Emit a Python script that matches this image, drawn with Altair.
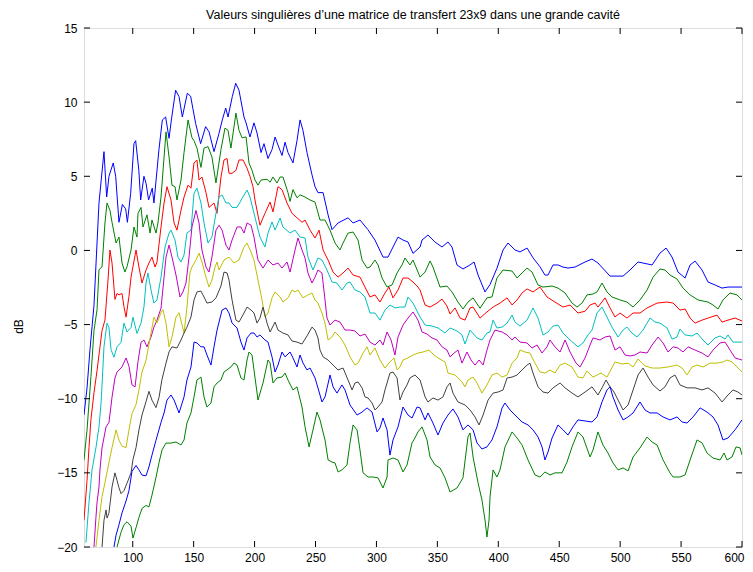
import altair as alt
import pandas as pd

TITLE = "Valeurs singulières d\u2019une matrice de transfert 23x9 dans une grande cavité"
Y_TITLE = "dB"
XTICKS = [100, 150, 200, 250, 300, 350, 400, 450, 500, 550, 600]
YTICKS = [-20, -15, -10, -5, 0, 5, 10, 15]
X_DOMAIN = [60, 600]
Y_DOMAIN = [-20, 15]
COLORS = ["#0000ff", "#008000", "#ff0000", "#00bfbf", "#bf00bf", "#bfbf00", "#404040", "#0000ff", "#008000"]

S1 = [(60,-11.1),(62.5,-9.27),(64.9,-6.7),(68.2,-3.7),(72.3,3.2),(76.4,6.66),(78.6,3.6),(80.5,5.0),(84,5.9),(86,5.0),
      (88.7,1.9),(91.5,3.1),(94.2,2.8),(95.6,1.9),(98.3,3.85),(101,7.2),(102.4,7.4),(105,5.4),(106.5,3.4),(109.2,5.0),
      (111,4.5),(113,3.4),(116,4.2),(117.4,3.2),(121.5,6.8),(124.3,8.8),(127,9.0),(129.8,7.56),(131.7,8.8),(135.2,10.8),
      (138,10.37),(140.7,9.0),(144.8,10.6),(147.5,10.4),(151.6,8.57),(155.7,7.2),(159.8,8.35),(162.6,8.0),(166.7,6.66),
      (170.8,7.9),(173.5,8.8),(176.3,9.6),(178.2,9.0),(181.7,10.37),(184.5,11.27),(187.2,10.8),(191.3,9.0),(193,8.6),
      (196.2,7.65),(199.5,8.6),(202,7.92),(205.3,6.6),(207.7,7.2),(211,6.2),(214.3,6.8),(216.8,7.65),(219.2,7.1),
      (222.5,6.4),(225,7.3),(227.4,6.6),(231.5,5.9),(234.8,7.4),(237.3,8.8),(239.7,8.1),(243,6.6),(247.1,5.1),(249.6,4.3),
      (252,3.9),(256.2,3.9),(260.3,2.4),(263.5,1.4),(268.5,1.85),(276.7,2.2),(280.8,1.85),(286.5,2.05),(293,1.4),
      (298.8,0.7),(305.4,-0.45),(309.5,-0.45),(313.6,0.23),(317.7,0.9),(321.8,0.7),(325.9,0.57),(330,-0.2),(335.8,0.23),
      (337.4,0.7),(342.3,1.04),(348,0.57),(353.8,0.23),(358.7,0.57),(362,0.23),(366.1,-0.98),(371,-1.25),(376.8,-0.98),
      (380.1,-0.78),(383.4,-1.66),(389.1,-2.8),(393.2,-2.3),(398.9,-1.2),(403.9,0.03),(408,0.5),(413.7,0.03),(417.8,-0.1),
      (423.6,0.16),(428.5,-0.5),(434.2,-1.1),(438.3,-1.66),(440.8,-1.66),(444.9,-0.98),(449,-0.98),(453.1,-1.12),
      (457.2,-1.19),(463,-1.12),(471.2,-0.78),(476.9,-0.58),(481.8,-0.85),(491.7,-1.73),(502.4,-1.73),(508.1,-1.32),
      (514.7,-0.78),(526.2,-0.98),(532.7,-0.18),(537.7,0.16),(542.6,-0.45),(547.5,-1.46),(553.3,-1.86),(557.4,-0.98),
      (561.5,-0.72),(567.2,-1.32),(572.1,-2.13),(577.9,-2.33),(583.6,-2.54),(588.5,-2.47),(595.9,-2.47),(600,-2.47)]

S2 = [(60,-14.13),(62.5,-12.1),(64.1,-10.3),(65.7,-8.5),(68.2,-5.4),(70.7,-4.0),(72.3,-1.3),(74.8,-1.1),(77.2,1.85),
      (78.9,3.2),(81.3,2.7),(83,1.9),(86.3,0.5),(88.7,0.9),(91.2,-0.85),(93.6,-1.46),(95.3,-1.1),(98.6,0.03),(101,1.58),
      (103.5,0.9),(104.3,2.5),(106.8,2.9),(108.4,1.58),(111.7,2.4),(114.2,1.17),(115.8,2.05),(119.1,1.17),(120.7,1.85),
      (123.2,3.6),(127.3,8.0),(129.8,6.3),(132.2,4.4),(134.7,4.3),(136.3,3.4),(139.6,4.75),(142.1,6.6),(145.4,8.8),
      (148.6,7.6),(150.3,7.4),(152.7,6.9),(156,5.6),(158.5,6.9),(161.8,7.0),(165,6.3),(168.3,4.55),(172.4,6.8),
      (175.7,8.25),(178.2,8.1),(180.6,6.9),(184.7,9.26),(187.2,8.1),(189.7,7.6),(193,7.65),(195.4,5.9),(197.9,5.4),
      (200.3,4.75),(202.8,4.4),(205.3,4.75),(210.2,4.8),(212.7,4.6),(215.1,4.95),(218.4,4.55),(220.9,4.95),(223.3,4.95),
      (227.4,3.9),(229.1,3.3),(231.5,4.1),(234.8,3.55),(237.3,3.75),(241.4,3.6),(245.5,3.4),(249.6,3.26),(253.7,2.05),
      (257.8,2.05),(261.9,1.37),(266,0.5),(270.1,0.03),(272.6,0.5),(276.7,1.17),(280.8,1.24),(284.9,0.7),(288.2,-0.65),
      (292.3,-1.19),(294.7,-1.12),(298.8,-0.65),(301.3,-0.98),(304.6,-1.86),(308.7,-2.47),(312.8,-2.33),(316.9,-1.52),
      (321,-0.98),(323.4,-0.51),(327.5,-0.98),(330,-0.65),(335.8,-1.8),(339.9,-1.46),(344,-0.71),(346.4,-1.12),
      (352.2,-2.47),(357.9,-2.4),(362,-2.8),(366.9,-3.48),(371,-3.95),(375.1,-3.48),(379.3,-3.2),(385,-3.9),(390.7,-3.2),
      (394.8,-3.14),(398.9,-1.86),(403.9,-1.32),(411.3,-1.39),(415.4,-1.86),(419.5,-1.52),(423.6,-1.19),(427.7,-1.46),
      (432.6,-2.33),(436.7,-2.47),(444.1,-2.4),(449,-2.54),(454.8,-2.87),(460.5,-3.55),(464.6,-3.82),(468.7,-3.55),
      (472.8,-3.0),(477.7,-2.94),(481,-2.8),(485.1,-2.2),(489.2,-2.8),(493.3,-3.14),(499.9,-3.34),(505.6,-3.48),
      (510.6,-3.82),(516.3,-3.34),(522.1,-2.67),(527,-1.8),(532.7,-1.25),(536.8,-1.32),(540.9,-1.66),(546.7,-1.93),
      (551.6,-2.54),(557.4,-3.0),(563.9,-3.34),(572.1,-3.48),(576.2,-3.68),(580.3,-3.95),(584.4,-3.34),(590.2,-2.87),
      (595.9,-3.0),(600,-3.34)]

S3 = [(60,-18.2),(62.5,-15.5),(64.1,-13.3),(65.7,-11.4),(68.2,-9.6),(70.7,-8.1),(74.8,-5.4),(77.2,-4.7),(79.7,-2.0),
      (81.3,0.03),(83,-0.85),(85.4,-3.3),(87.1,-2.9),(88.7,-3.0),(91.2,-2.9),(92.8,-3.8),(94.5,-4.5),(96.9,-3.1),
      (98.6,-1.8),(102.7,0.03),(105.1,-1.12),(107.6,-2.2),(110.9,-1.32),(113.3,-0.85),(115.8,-0.45),(118.3,-1.12),
      (119.9,-0.78),(123.2,1.58),(125.7,3.2),(128.1,4.3),(131.4,3.4),(133.9,1.85),(136.3,1.37),(139.6,2.7),(142.1,3.6),
      (145.4,4.4),(147.8,4.2),(150.3,5.9),(152.7,6.1),(154.4,4.75),(156.8,4.95),(160.1,3.9),(162.6,2.9),(166.7,3.2),
      (169.2,2.5),(172.4,4.95),(174.9,6.1),(177.4,6.2),(179,5.2),(181.5,5.2),(184.7,5.4),(187.2,6.1),(190.5,6.1),
      (193.8,5.55),(196.2,5.0),(198.7,4.3),(200.3,3.4),(204.4,1.7),(208.5,2.5),(212.7,3.26),(215.1,2.6),(219.2,4.3),
      (222.5,4.1),(226.6,3.2),(230.7,2.5),(234.8,2.2),(238.9,1.9),(241.4,2.05),(245.5,1.37),(249.6,0.84),(252.9,1.37),
      (256.2,0.03),(260.3,-0.65),(264.4,-1.46),(268.5,-1.8),(272.6,-1.52),(276.7,-1.19),(280.8,-1.66),(286.5,-1.8),
      (290.6,-2.47),(294.7,-3.14),(298.8,-3.0),(302.9,-3.48),(307,-2.87),(310.3,-2.47),(313.6,-3.2),(317.7,-2.67),
      (321.8,-1.86),(325.9,-1.86),(330,-2.13),(334.1,-2.47),(335.8,-2.67),(339.9,-3.68),(344,-3.82),(349.7,-3.55),
      (353.8,-3.28),(357.9,-3.75),(360.4,-4.29),(364.5,-3.88),(368.6,-4.56),(372.7,-4.7),(376.8,-3.88),(379.3,-3.82),
      (385,-4.56),(390.7,-4.15),(395.7,-3.82),(401.4,-3.55),(407.2,-3.2),(411.3,-3.68),(415.4,-3.34),(419.5,-2.87),
      (423.6,-2.6),(428.5,-2.8),(434.2,-2.47),(440,-3.14),(446.5,-3.48),(453.1,-3.82),(458.9,-3.68),(465.4,-4.22),
      (471.2,-4.1),(475.3,-3.68),(479.4,-3.55),(481.8,-3.82),(487.6,-3.2),(491.7,-3.88),(495.8,-4.49),(499.9,-4.22),
      (505.6,-4.56),(510.6,-4.22),(516.3,-4.22),(522.1,-3.88),(530.3,-3.55),(538.5,-3.48),(543.4,-3.55),(549.1,-4.02),
      (553.3,-3.95),(557.4,-4.56),(561.5,-4.9),(567.2,-4.7),(572.1,-4.56),(579.5,-4.36),(583.6,-4.83),(588.5,-4.7),
      (594.3,-4.56),(600,-4.76)]

S4 = [(61.6,-19.7),(64.1,-17.0),(66.6,-14.8),(69.8,-13.3),(72.3,-11.9),(74,-10.3),(74.8,-9.07),(76.4,-6.5),(78.9,-4.9),
      (80.5,-5.2),(82.2,-6.7),(84.6,-7.2),(87.1,-6.5),(90.4,-6.2),(92.8,-4.9),(95.3,-5.5),(98.6,-5.2),(100.2,-4.5),
      (103.5,-5.6),(106.8,-4.9),(109.2,-3.82),(110.9,-2.2),(112.5,-1.52),(115,-2.67),(117.4,-3.55),(119.9,-3.34),
      (123.2,-1.8),(126.5,0.23),(129.8,1.17),(131.4,1.37),(134.7,0.7),(137.1,-0.45),(139.6,-0.78),(142.1,-0.31),
      (144.5,1.17),(147.8,1.37),(150.3,3.87),(152.7,4.2),(156,3.2),(158.5,1.85),(161.8,0.5),(165,0.9),(168.3,2.5),
      (170.8,3.6),(173.3,3.74),(176.5,3.2),(179,3.2),(181.5,2.9),(185.6,2.9),(189.7,3.5),(193.8,4.07),(196.2,3.6),
      (200.3,2.25),(204.4,0.9),(208.5,0.23),(211,1.17),(214.3,1.92),(216.8,1.37),(220.9,2.18),(223.3,1.58),(229.1,1.17),
      (233.2,1.37),(237.3,0.9),(241.4,0.84),(243.8,-0.45),(247.9,-1.32),(252,-0.51),(255.3,-0.65),(259.4,-1.32),
      (263.5,-2.13),(267.6,-2.2),(271.7,-2.67),(275.8,-2.2),(278.3,-2.13),(282.4,-2.67),(286.5,-2.8),(290.6,-3.14),
      (294.7,-4.22),(298.8,-4.22),(302.9,-4.7),(307,-4.02),(311.1,-3.68),(315.2,-3.88),(319.3,-3.82),(323.4,-3.82),
      (325.9,-3.14),(330,-3.55),(334.1,-4.22),(335.8,-4.49),(339.9,-5.03),(345.6,-5.1),(350.5,-5.23),(356.3,-5.57),
      (360.4,-5.23),(366.1,-5.43),(370.2,-5.7),(372.7,-6.31),(376.8,-5.37),(382.5,-5.9),(386.6,-6.04),(390.7,-5.57),
      (393.2,-5.5),(395.7,-4.7),(398.9,-5.23),(403.1,-5.17),(407.2,-4.9),(411.3,-4.36),(413.7,-4.83),(417.8,-5.1),
      (423.6,-4.7),(428.5,-3.88),(432.6,-4.56),(436.7,-5.7),(440.8,-5.5),(444.9,-5.1),(449,-5.03),(453.1,-5.57),
      (458.9,-6.04),(465.4,-6.5),(469.5,-6.24),(473.6,-5.7),(476.9,-5.37),(481,-4.22),(485.1,-3.82),(489.2,-4.49),
      (493.3,-5.17),(498.3,-5.84),(502.4,-5.37),(505.6,-5.17),(509.7,-5.57),(513.8,-5.84),(518.8,-5.37),(524.5,-4.56),
      (528.6,-4.83),(532.7,-4.9),(538.5,-5.23),(542.6,-5.98),(546.7,-5.84),(549.1,-5.3),(553.3,-5.7),(559,-5.77),
      (563.1,-5.57),(568,-6.04),(572.1,-6.38),(577.9,-5.9),(582,-5.77),(586.1,-5.98),(588.5,-5.7),(592.6,-6.18),
      (600,-6.18)]

S5 = [(67.4,-20.6),(68.2,-20.0),(69.8,-18.0),(70.7,-17.0),(72.3,-15.95),(73.1,-14.8),(74.8,-13.3),(78.1,-11.9),
      (80.5,-11.6),(83,-9.9),(85.4,-8.6),(87.1,-8.2),(91.2,-7.86),(94.5,-7.25),(96.9,-7.8),(99.4,-9.07),(101.9,-9.2),
      (104.3,-7.5),(106.8,-6.2),(109.2,-6.04),(111.7,-6.5),(115,-5.84),(117.4,-5.17),(119.9,-4.7),(123.2,-3.9),
      (127.3,-0.45),(129.8,0.36),(132.2,-0.45),(135.5,-1.66),(138.8,-3.14),(141.2,-2.8),(143.7,-2.2),(146.2,-0.45),
      (148.6,1.58),(151.9,2.7),(154.4,1.85),(156.8,0.03),(160.1,-1.12),(162.6,-1.46),(165,-0.45),(168.3,1.37),
      (170.8,1.7),(173.3,1.37),(176.5,0.36),(179,0.03),(181.5,0.7),(185.6,1.58),(188.8,1.58),(191.3,1.17),(193.8,1.85),
      (197.1,1.7),(199.5,0.9),(202.8,-0.65),(206.9,-1.19),(211,-0.65),(215.1,-0.98),(219.2,-0.85),(222.5,-1.19),
      (226.6,-0.78),(229.1,-1.46),(233.2,0.03),(235.6,0.84),(238.9,0.03),(241.4,-0.51),(243.8,-1.52),(247.1,-2.2),
      (249.6,-1.8),(252,-1.32),(255.3,-1.52),(257.8,-3.34),(259.4,-4.56),(261.9,-5.03),(266,-4.7),(270.1,-4.83),
      (274.2,-5.37),(278.3,-5.37),(282.4,-5.43),(286.5,-5.77),(290.6,-5.64),(294.7,-6.18),(298.8,-6.38),(302.9,-6.04),
      (305.4,-6.38),(308.7,-5.5),(312,-6.04),(315.2,-7.05),(317.7,-5.84),(321.8,-5.03),(325.9,-4.56),(330,-4.15),
      (334.1,-4.7),(337.4,-5.5),(341.5,-5.64),(345.6,-5.9),(349.7,-6.04),(353.8,-6.5),(357.9,-6.72),(360.4,-7.18),
      (363.7,-6.92),(366.9,-6.72),(370.2,-7.6),(374.3,-6.85),(377.6,-7.39),(380.9,-7.73),(384.2,-7.39),(387.5,-7.73),
      (390.7,-6.72),(393.2,-6.04),(397.3,-5.37),(403.1,-5.5),(407.2,-5.7),(411.3,-6.04),(413.7,-5.84),(417.8,-6.18),
      (423.6,-6.24),(427.7,-6.58),(431.8,-6.38),(435.9,-6.92),(440,-6.5),(442.4,-6.04),(446.5,-6.5),(450.7,-6.85),
      (454.8,-6.04),(458.9,-6.85),(463.8,-7.6),(467.1,-7.86),(471.2,-7.25),(475.3,-6.38),(477.7,-5.9),(483.5,-6.04),
      (487.6,-5.84),(491.7,-5.77),(495.8,-6.72),(499.9,-6.5),(504,-7.05),(508.1,-7.12),(512.2,-7.05),(516.3,-6.85),
      (522.1,-6.92),(526.2,-6.38),(531.1,-5.84),(535.2,-6.24),(539.3,-6.85),(543.4,-6.5),(547.5,-6.58),(551.6,-6.85),
      (555.7,-6.5),(561.5,-6.72),(567.2,-6.92),(572.1,-7.18),(576.2,-6.72),(582,-6.24),(586.1,-6.18),(590.2,-6.72),
      (594.3,-7.25),(600,-7.39)]

S6 = [(69,-20.6),(69.8,-20.0),(72.3,-18.2),(74.8,-16.6),(78.1,-15.3),(80.5,-14.3),(83,-13.3),(86.3,-12.1),(88.7,-12.8),
      (91.2,-13.2),(94.5,-13.3),(96.9,-12.1),(99.4,-11.0),(102.7,-10.4),(105.1,-9.4),(107.6,-8.2),(110.9,-7.4),
      (115,-5.57),(117.4,-4.5),(119.9,-4.9),(123.2,-4.2),(124.8,-4.0),(127.3,-4.9),(129.8,-6.5),(132.2,-5.84),
      (135.5,-4.5),(138,-4.2),(142.1,-5.57),(144.5,-3.82),(147,-1.46),(148.6,-1.12),(151.9,-0.65),(154.4,-0.18),
      (156.8,-0.78),(160.1,-1.8),(162.6,-2.47),(165,-2.0),(167.5,-1.12),(169.2,-0.78),(170.8,-1.32),(174.9,-0.65),
      (179,-0.45),(183.1,-0.85),(187.2,-0.65),(191.3,0.23),(193.8,0.5),(197.1,-0.11),(199.5,-0.65),(202.8,-2.0),
      (206.1,-3.34),(208.5,-4.49),(211,-4.22),(214.3,-3.2),(216.8,-2.8),(220.9,-3.14),(223.3,-3.48),(227.4,-3.2),
      (230.7,-2.67),(233.2,-2.8),(235.6,-2.67),(239.7,-3.2),(243.8,-3.0),(247.1,-2.87),(249.6,-3.34),(252,-3.55),
      (255.3,-4.22),(257.8,-4.9),(260.3,-6.04),(263.5,-5.84),(266,-5.5),(270.1,-5.84),(274.2,-6.38),(278.3,-7.18),
      (282.4,-7.73),(284.9,-7.6),(289,-6.92),(292.3,-6.5),(294.7,-7.05),(298.8,-6.58),(302.9,-7.39),(307,-7.93),
      (311.1,-7.52),(314.4,-7.25),(316.9,-8.06),(319.3,-7.86),(321.8,-7.39),(325.9,-7.25),(330,-7.05),(334.1,-6.92),
      (338.2,-6.85),(343.1,-6.72),(347.2,-7.05),(350.5,-7.25),(356.3,-7.52),(358.7,-8.27),(364.5,-8.4),(370.2,-8.87),
      (372.7,-9.2),(375.1,-8.74),(379.3,-8.54),(382.5,-8.94),(386.6,-9.62),(390.7,-9.07),(394.8,-8.4),(398.9,-8.27),
      (403.1,-8.54),(407.2,-8.4),(411.3,-7.6),(415.4,-7.25),(417.8,-6.72),(421.9,-6.85),(426,-6.92),(430.1,-7.6),
      (434.2,-8.2),(438.3,-8.27),(442.4,-8.06),(446.5,-8.27),(450.7,-7.73),(454.8,-7.6),(460.5,-7.86),(465.4,-8.54),
      (469.5,-8.6),(472.8,-8.13),(477.7,-8.54),(484.3,-8.27),(489.2,-8.54),(495.8,-7.52),(501.5,-7.66),(506.5,-7.6),
      (510.6,-7.86),(514.7,-7.32),(520.4,-7.79),(526.2,-7.93),(532.7,-7.93),(539.3,-7.86),(546.7,-7.73),(550.8,-7.93),
      (554.9,-8.4),(559,-7.86),(563.1,-7.73),(568,-7.86),(573.8,-7.6),(579.5,-7.6),(584.4,-7.52),(587.7,-7.39),
      (591.8,-7.52),(595.9,-7.86),(600,-8.2)]

S7 = [(74,-20.6),(74.8,-20.0),(76.4,-18.2),(78.1,-17.5),(78.9,-18.05),(80.5,-17.7),(83,-15.95),(85.4,-15.0),(87.1,-15.5),
      (88.7,-16.0),(90.4,-16.4),(92.8,-16.2),(95.3,-15.7),(98.6,-15.0),(100.2,-14.1),(102.7,-13.3),(105.1,-12.1),
      (107.6,-11.1),(110.9,-10.2),(113.3,-9.5),(115.8,-10.1),(119.1,-10.6),(121.6,-9.9),(124,-8.7),(127.3,-7.6),
      (129.8,-6.84),(132.2,-6.5),(136.3,-6.58),(139.6,-6.04),(142.1,-5.57),(144.5,-5.17),(147.8,-4.49),(150.3,-3.34),
      (152.7,-2.8),(156,-2.74),(158.5,-3.14),(160.9,-3.55),(165,-3.48),(168.3,-3.2),(172.4,-2.4),(174.9,-1.46),
      (177.4,-1.52),(179,-2.0),(181.5,-3.34),(184.7,-4.7),(187.2,-4.83),(191.3,-4.22),(193.8,-3.82),(197.1,-4.02),
      (199.5,-4.22),(202,-4.9),(204.4,-4.56),(206.9,-3.82),(210.2,-4.9),(212.7,-5.5),(216.8,-4.83),(219.2,-5.37),
      (223.3,-5.57),(227.4,-5.7),(230.7,-6.11),(234.8,-6.18),(238.9,-6.31),(243,-5.77),(247.1,-5.17),(249.6,-5.37),
      (252,-5.9),(253.7,-6.72),(256.2,-7.18),(260.3,-7.39),(264.4,-7.73),(268.5,-8.06),(272.6,-7.93),(276.7,-8.74),
      (280,-9.41),(282.4,-8.94),(284.9,-8.87),(288.2,-9.27),(290.6,-9.88),(293.1,-9.95),(296.4,-10.29),(298.8,-10.76),
      (301.3,-10.56),(304.6,-10.22),(307,-9.41),(311.1,-8.27),(313.6,-8.2),(316.9,-8.6),(319.3,-10.09),(321.8,-9.55),
      (325.1,-9.07),(327.5,-8.6),(331.6,-8.4),(335.8,-8.74),(339.9,-9.88),(342.3,-10.22),(346.4,-9.95),(350.5,-10.09),
      (354.6,-9.88),(357.9,-9.2),(360.4,-8.94),(362.8,-9.62),(366.9,-10.22),(372.7,-10.42),(376.8,-10.76),
      (380.9,-11.23),(384.2,-11.77),(387.5,-11.1),(391.6,-10.09),(395.7,-9.62),(399.8,-9.55),(403.9,-9.41),(407.2,-8.6),
      (411.3,-8.54),(415.4,-8.4),(419.5,-8.06),(423.6,-7.73),(426,-7.6),(428.5,-8.27),(432.6,-9.2),(436.7,-9.55),
      (440.8,-9.62),(444.9,-9.27),(450.7,-8.94),(454.8,-9.27),(460.5,-9.62),(465.4,-9.88),(471.2,-9.55),(476.9,-9.2),
      (481.8,-9.75),(485.1,-9.27),(488.4,-8.74),(491.7,-9.2),(495,-9.55),(498.3,-10.09),(502.4,-10.76),(506.5,-10.42),
      (510.6,-9.41),(514.7,-8.4),(518.8,-7.93),(522.9,-8.54),(527,-9.07),(532.7,-9.48),(536.8,-9.2),(540.9,-8.6),
      (545,-8.4),(549.1,-9.07),(554.9,-9.27),(561.5,-9.27),(567.2,-9.41),(572.1,-9.27),(577.9,-9.62),(583.6,-10.22),
      (588.5,-9.75),(592.6,-9.41),(596.7,-9.55),(600,-9.75)]

S8 = [(84,-20.6),(84.6,-20.0),(86.3,-19.2),(88.7,-18.5),(91.2,-17.7),(94.5,-16.9),(96.9,-16.2),(99.4,-14.9),(102.7,-14.5),
      (105.1,-14.8),(107.6,-15.15),(110.9,-15.2),(113.3,-14.6),(115.8,-13.8),(119.1,-12.8),(123.2,-11.6),(125.7,-10.96),
      (128.1,-10.09),(131.4,-9.75),(133.9,-10.09),(138,-10.96),(142.1,-9.88),(144.5,-8.74),(147.8,-7.86),(150.3,-6.18),
      (152.7,-6.24),(156,-6.5),(158.5,-6.5),(160.9,-7.05),(164.2,-7.73),(166.7,-6.5),(169.2,-5.37),(173.3,-4.02),
      (176.5,-3.88),(179,-4.22),(181.5,-4.9),(185.6,-5.23),(188.8,-6.18),(191.3,-6.72),(193.8,-5.9),(197.1,-5.57),
      (199.5,-5.57),(202,-5.84),(204.4,-5.7),(208.5,-6.04),(211,-6.18),(214.3,-7.18),(216.8,-8.2),(219.2,-7.73),
      (222.5,-6.85),(225,-7.18),(229.1,-6.85),(231.5,-7.25),(234.8,-7.86),(237.3,-7.05),(239.7,-7.59),(243,-8.06),
      (245.5,-7.93),(249.6,-8.6),(252,-9.27),(255.3,-10.22),(257.8,-9.88),(261.9,-8.4),(264.4,-9.2),(267.6,-9.62),
      (271.7,-9.07),(274.2,-9.41),(278.3,-10.42),(284.1,-11.1),(288.2,-10.9),(292.3,-10.62),(296.4,-10.9),(300.5,-12.24),
      (302.9,-11.97),(305.4,-11.3),(308.7,-12.1),(311.1,-13.8),(313.6,-12.78),(317.7,-11.9),(321.8,-10.56),(325.9,-11.1),
      (329.2,-11.3),(333.3,-10.56),(335.8,-10.62),(339.9,-11.43),(342.3,-10.96),(346.4,-11.64),(350.5,-12.45),
      (354.6,-11.64),(358.7,-11.1),(362.8,-10.69),(366.9,-11.23),(371,-12.1),(375.1,-11.77),(379.3,-12.1),(382.5,-12.98),
      (386.6,-13.39),(390.7,-13.25),(394.8,-12.78),(398.9,-11.9),(403.1,-10.62),(405.5,-10.29),(409.6,-10.76),
      (413.7,-11.1),(419.5,-11.57),(424.4,-11.77),(428.5,-12.1),(432.6,-12.58),(435.9,-13.25),(438.3,-14.13),
      (440.8,-13.59),(444.1,-12.65),(449,-11.77),(453.1,-12.1),(457.2,-12.45),(461.3,-11.9),(465.4,-11.43),(471.2,-11.5),
      (476.9,-11.57),(481,-11.23),(485.1,-10.22),(489.2,-9.41),(491.7,-9.2),(494.1,-9.88),(498.3,-10.76),(502.4,-11.43),
      (506.5,-11.23),(510.6,-10.96),(516.3,-10.22),(520.4,-10.76),(524.5,-10.96),(530.3,-10.96),(535.2,-11.23),
      (540.9,-11.43),(546.7,-11.23),(550.8,-11.57),(554.9,-11.64),(559.8,-11.23),(565.6,-10.62),(571.3,-10.9),
      (576.2,-11.23),(580.3,-11.77),(584.4,-12.78),(588.5,-12.65),(594.3,-12.1),(600,-11.43)]

S9 = [(86.5,-20.6),(87.1,-20.0),(90.4,-19.0),(92.8,-18.5),(95.3,-18.3),(98.6,-18.6),(100.2,-19.4),(102.7,-18.7),
      (105.1,-18.0),(107.6,-17.4),(110.9,-17.2),(113.3,-17.3),(115.8,-16.5),(119.1,-15.3),(121.6,-14.3),(124,-13.46),
      (127.3,-12.99),(131.4,-12.99),(135.5,-12.92),(139.6,-13.12),(142.1,-12.78),(144.5,-11.64),(147.8,-10.96),
      (150.3,-9.88),(152.7,-8.74),(156,-8.54),(158.5,-9.88),(160.9,-10.56),(164.2,-10.29),(166.7,-9.2),(169.2,-8.94),
      (172.4,-8.74),(174.9,-8.2),(180.6,-7.86),(183.1,-7.59),(185.6,-7.73),(188.8,-8.6),(191.3,-8.74),(193.8,-7.39),
      (195.4,-6.85),(197.9,-7.05),(199.5,-8.06),(202.8,-10.09),(206.9,-8.94),(211,-7.39),(212.7,-7.59),(215.1,-8.94),
      (218.4,-8.6),(222.5,-8.54),(225,-8.27),(227.4,-8.74),(231.5,-9.41),(234.8,-9.2),(238.9,-10.56),(241.4,-11.9),
      (244.7,-13.25),(247.9,-12.11),(251.2,-10.9),(253.7,-11.43),(255.3,-11.97),(257.8,-12.78),(260.3,-14.13),
      (263.5,-14.27),(266,-14.33),(268.5,-14.94),(271.7,-14.8),(275.8,-14.47),(278.3,-12.98),(280.8,-11.77),
      (284.1,-12.11),(286.5,-13.46),(289,-15.0),(293.1,-15.28),(297.2,-15.28),(301.3,-15.34),(305.4,-16.02),
      (308.7,-15.28),(309.5,-14.13),(313.6,-14.0),(317.7,-14.13),(321.8,-14.94),(325.1,-14.47),(329.2,-12.98),
      (331.6,-12.65),(334.1,-12.24),(337.4,-11.9),(341.5,-12.78),(344,-13.93),(348.1,-14.47),(352.2,-14.67),
      (356.3,-15.34),(360.4,-16.29),(366.1,-16.02),(371,-15.34),(375.1,-12.58),(376.8,-12.31),(379.3,-13.93),
      (383.4,-15.68),(386.6,-16.83),(389.1,-18.18),(390.7,-19.33),(392.4,-18.18),(393.2,-16.63),(395.7,-14.8),
      (398.9,-15.28),(401.4,-14.8),(405.5,-13.25),(411.3,-12.24),(415.4,-12.65),(419.5,-13.12),(424.4,-14.13),
      (430.1,-15.14),(434.2,-15.28),(438.3,-14.94),(442.4,-15.14),(446.5,-15.0),(452.3,-15.0),(456.4,-14.27),
      (460.5,-13.25),(465.4,-12.24),(469.5,-12.58),(471.2,-12.98),(475.3,-13.93),(477.7,-13.46),(481.8,-12.24),
      (485.9,-13.12),(490,-13.66),(494.1,-14.33),(498.3,-14.8),(502.4,-14.67),(506.5,-14.87),(510.6,-13.93),
      (516.3,-13.32),(522.1,-12.58),(526.2,-12.92),(530.3,-13.12),(535.2,-14.13),(540.9,-15.0),(543.4,-15.28),
      (549.1,-15.28),(553.3,-15.14),(557.4,-14.13),(563.1,-12.78),(567.2,-12.98),(571.3,-13.66),(576.2,-14.0),
      (582,-14.13),(585.3,-13.66),(587.7,-14.13),(591.8,-13.93),(595.1,-13.25),(598.4,-13.32),(600,-13.79)]

SERIES = [S1, S2, S3, S4, S5, S6, S7, S8, S9]
NAMES = [f"s{i+1}" for i in range(len(SERIES))]

rows = []
for name, pts in zip(NAMES, SERIES):
    for k, (f, d) in enumerate(pts):
        rows.append({"s": name, "f": f, "db": d, "k": k})
df = pd.DataFrame(rows)

W, H = 658, 519
TICK = 6
FONT = "Liberation Sans"

xscale = alt.Scale(domain=X_DOMAIN, nice=False, zero=False)
yscale = alt.Scale(domain=Y_DOMAIN, nice=False, zero=False)
xaxis = alt.Axis(values=XTICKS, title=None, tickSize=0, labelPadding=5, domain=False, grid=False,
                 labelFont=FONT, labelFontSize=12, labelColor="black", labelFlush=True, labelFlushOffset=2,
                 labelOverlap=False)
yaxis = alt.Axis(values=YTICKS, title=Y_TITLE, tickSize=0, labelPadding=7, domain=False, grid=False,
                 labelFont=FONT, labelFontSize=12, labelColor="black", labelOverlap=False,
                 titleFont=FONT, titleFontSize=12, titleFontWeight="normal", titleColor="black",
                 titleX=-66, titleY=298, titleAlign="center", titleBaseline="middle", titleAngle=270)

lines = alt.Chart(df).mark_line(strokeWidth=1, clip=True).encode(
    x=alt.X("f:Q", scale=xscale, axis=xaxis),
    y=alt.Y("db:Q", scale=yscale, axis=yaxis),
    color=alt.Color("s:N", scale=alt.Scale(domain=NAMES, range=COLORS), legend=None),
    order=alt.Order("k:Q"),
)

xt = pd.DataFrame({"f": XTICKS})
yt = pd.DataFrame({"db": YTICKS})
rule = dict(color="black", strokeWidth=1)
top_ticks = alt.Chart(xt).mark_rule(**rule).encode(
    x=alt.X("f:Q", scale=xscale, axis=xaxis), y=alt.value(0), y2=alt.value(TICK))
bot_ticks = alt.Chart(xt).mark_rule(**rule).encode(
    x=alt.X("f:Q", scale=xscale, axis=xaxis), y=alt.value(H), y2=alt.value(H - TICK))
left_ticks = alt.Chart(yt).mark_rule(**rule).encode(
    y=alt.Y("db:Q", scale=yscale, axis=yaxis), x=alt.value(0), x2=alt.value(TICK))
right_ticks = alt.Chart(yt).mark_rule(**rule).encode(
    y=alt.Y("db:Q", scale=yscale, axis=yaxis), x=alt.value(W), x2=alt.value(W - TICK))

chart = alt.layer(lines, top_ticks, bot_ticks, left_ticks, right_ticks).properties(
    width=W, height=H,
    title=alt.TitleParams(TITLE, font=FONT, fontSize=12.5, fontWeight="normal", color="black",
                          anchor="middle", offset=1),
    autosize=alt.AutoSizeParams(type="none"),
    padding={"left": 76, "top": 20, "right": 3, "bottom": 17},
).configure_view(stroke="black", strokeWidth=1).configure(background="white")

chart.save("out.html", embed_options={"renderer": "svg", "actions": False})
